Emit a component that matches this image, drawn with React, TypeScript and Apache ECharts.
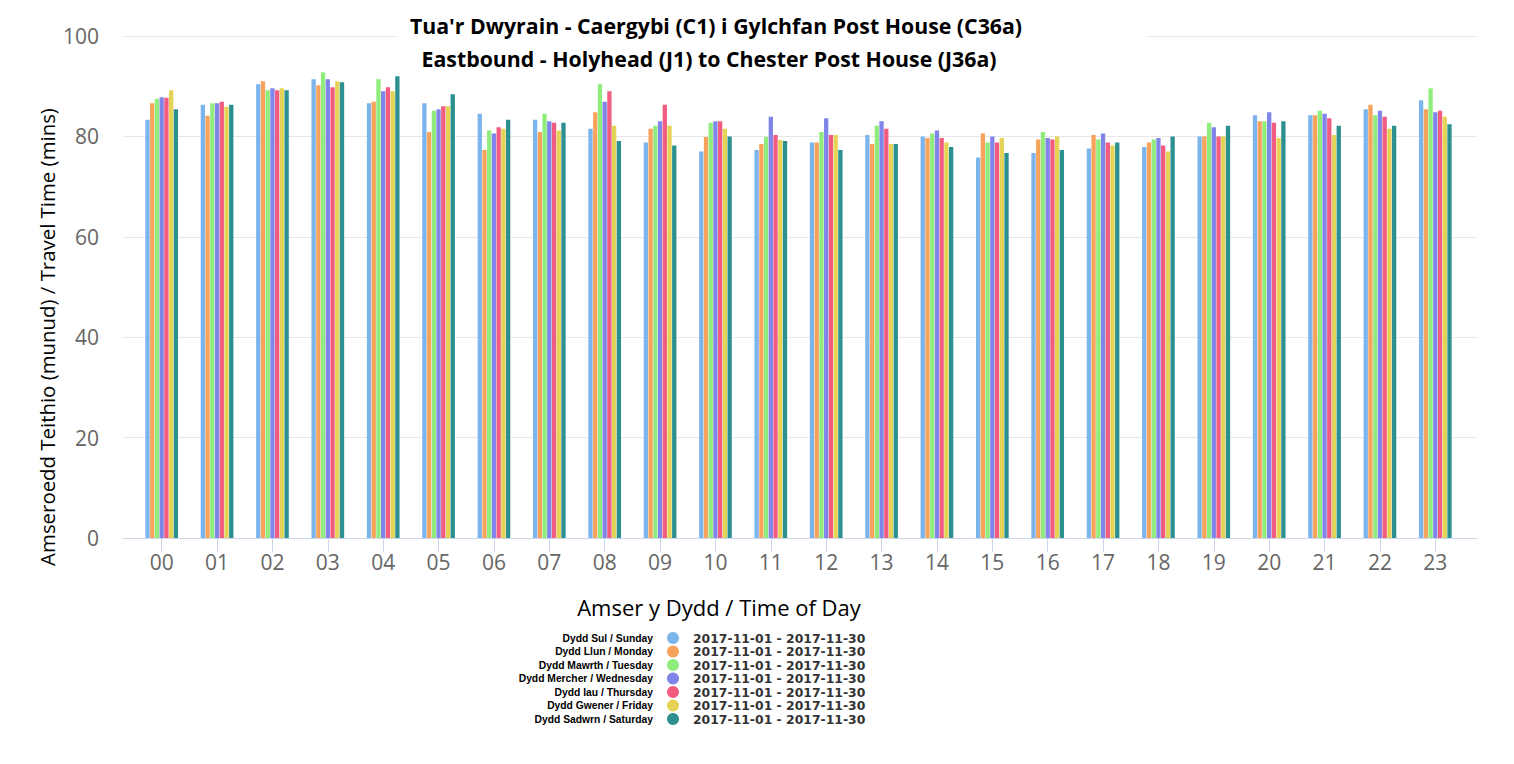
import React, { useEffect, useRef } from "react";
import * as echarts from "echarts";

const hours = ["00","01","02","03","04","05","06","07","08","09","10","11","12","13","14","15","16","17","18","19","20","21","22","23"];

const dayLabels = [
  "Dydd Sul / Sunday",
  "Dydd Llun / Monday",
  "Dydd Mawrth / Tuesday",
  "Dydd Mercher / Wednesday",
  "Dydd Iau / Thursday",
  "Dydd Gwener / Friday",
  "Dydd Sadwrn / Saturday",
];

const dateRange = "2017-11-01 - 2017-11-30";

const colors = ["#7cb5ec", "#f7a35c", "#90ed7d", "#8085e9", "#f15c80", "#e4d354", "#2b908f"];

const sunday = [83.3, 86.3, 90.4, 91.4, 86.6, 86.6, 84.5, 83.3, 81.5, 78.8, 77.0, 77.3, 78.8, 80.3, 80.0, 75.8, 76.7, 77.6, 77.9, 80.0, 84.2, 84.2, 85.4, 87.2];
const monday = [86.6, 84.1, 91.0, 90.2, 86.9, 80.9, 77.3, 80.9, 84.8, 81.5, 79.9, 78.5, 78.8, 78.5, 79.7, 80.6, 79.4, 80.3, 78.8, 80.0, 83.0, 84.2, 86.3, 85.4];
const tuesday = [87.5, 86.6, 89.2, 92.8, 91.4, 85.1, 81.2, 84.5, 90.4, 82.1, 82.7, 79.9, 80.9, 82.1, 80.6, 78.8, 80.9, 79.4, 79.4, 82.7, 83.0, 85.1, 84.2, 89.6];
const wednesday = [87.8, 86.6, 89.6, 91.4, 89.0, 85.4, 80.6, 83.0, 86.9, 83.0, 83.0, 83.9, 83.6, 83.0, 81.2, 80.0, 79.7, 80.6, 79.7, 81.8, 84.8, 84.5, 85.1, 84.8];
const thursday = [87.7, 86.9, 89.2, 89.8, 89.8, 86.0, 81.8, 82.7, 89.0, 86.3, 83.0, 80.3, 80.3, 81.5, 79.7, 78.8, 79.4, 78.8, 78.2, 80.0, 82.7, 83.6, 83.9, 85.1];
const friday = [89.2, 85.9, 89.6, 91.0, 89.0, 86.0, 81.5, 81.2, 82.1, 82.1, 81.5, 79.3, 80.3, 78.5, 78.8, 79.7, 80.0, 78.2, 77.0, 80.0, 79.7, 80.3, 81.5, 83.9];
const saturday = [85.4, 86.3, 89.2, 90.8, 92.0, 88.4, 83.3, 82.7, 79.1, 78.2, 80.0, 79.1, 77.3, 78.5, 77.9, 76.7, 77.3, 78.8, 80.0, 82.1, 83.0, 82.1, 82.1, 82.4];

const seriesValues = [sunday, monday, tuesday, wednesday, thursday, friday, saturday];

const yTicks = { min: 0, max: 100, interval: 20 };

const titleLine1 = "Tua'r Dwyrain - Caergybi (C1) i Gylchfan Post House (C36a)";
const titleLine2 = "Eastbound - Holyhead (J1) to Chester Post House (J36a)";
const yAxisName = "Amseroedd Teithio (munud) / Travel Time (mins)";
const xAxisName = "Amser y Dydd / Time of Day";

export default function App() {
  const ref = useRef<HTMLDivElement>(null);

  useEffect(() => {
    if (!ref.current) return;
    const chart = echarts.init(ref.current, undefined, { renderer: "svg" });
    const font = "'Open Sans', sans-serif";

    const legendTop = 632;
    const rowH = 13.5;

    const dayTexts = dayLabels.map((d, i) => ({
      type: "text",
      z: 50,
      x: 653,
      y: legendTop + 6 + i * rowH,
      style: {
        text: d,
        align: "right",
        verticalAlign: "middle",
        fontFamily: "'Liberation Sans', Arial, sans-serif",
        fontWeight: "bold",
        fontSize: 10.3,
        fill: "#000",
      },
    }));

    chart.setOption({
      animation: false,
      color: colors,
      grid: [
        { left: 123, right: 37, top: 36, bottom: 226, containLabel: false },
        { left: 134, right: 51, top: 36, bottom: 226, containLabel: false },
      ],
      xAxis: [
        {
          type: "value",
          gridIndex: 0,
          min: 0,
          max: 1,
          axisLine: { show: true, onZero: false, lineStyle: { color: "#ccd6eb", width: 1 } },
          axisTick: { show: false },
          axisLabel: { show: false },
          splitLine: { show: false },
        },
        {
          type: "category",
          gridIndex: 1,
          data: hours,
          axisLine: { show: false },
          axisTick: { show: true, alignWithLabel: true, length: 14, lineStyle: { color: "#ccd6eb" } },
          axisLabel: { color: "#666", fontFamily: font, fontSize: 21, margin: 13 },
        },
      ],
      yAxis: [
        {
          type: "value",
          gridIndex: 0,
          min: yTicks.min,
          max: yTicks.max,
          interval: yTicks.interval,
          axisLine: { show: false },
          axisTick: { show: false },
          axisLabel: { color: "#666", fontFamily: font, fontSize: 21, margin: 24 },
          splitLine: { lineStyle: { color: "#e6e6e6", width: 1 } },
        },
        {
          type: "value",
          gridIndex: 1,
          min: yTicks.min,
          max: yTicks.max,
          interval: yTicks.interval,
          show: false,
          splitLine: { show: false },
        },
      ],
      legend: {
        orient: "vertical",
        left: 667,
        top: legendTop,
        itemWidth: 30,
        itemHeight: 12,
        itemGap: 1.5,
        icon: "circle",
        padding: 0,
        data: dayLabels,
        formatter: () => dateRange,
        textStyle: {
          fontFamily: "'DejaVu Sans', sans-serif",
          fontWeight: "bold",
          fontSize: 12.4,
          color: "#333",
        },
      },
      graphic: [
        {
          type: "rect",
          z: 100,
          shape: { x: 397, y: 8, width: 750, height: 64 },
          style: { fill: "#fff" },
        },
        {
          type: "text",
          z: 101,
          x: 716,
          y: 25,
          style: {
            text: titleLine1,
            align: "center",
            verticalAlign: "middle",
            fontFamily: font,
            fontWeight: "bold",
            fontSize: 21.3,
            fill: "#000",
          },
        },
        {
          type: "text",
          z: 101,
          x: 709,
          y: 58,
          style: {
            text: titleLine2,
            align: "center",
            verticalAlign: "middle",
            fontFamily: font,
            fontWeight: "bold",
            fontSize: 21.3,
            fill: "#000",
          },
        },
        {
          type: "text",
          z: 50,
          x: 719,
          y: 607,
          style: {
            text: xAxisName,
            align: "center",
            verticalAlign: "middle",
            fontFamily: font,
            fontSize: 22,
            fill: "#000",
          },
        },
        {
          type: "text",
          z: 50,
          x: 47,
          y: 337,
          rotation: Math.PI / 2,
          style: {
            text: yAxisName,
            align: "center",
            verticalAlign: "middle",
            fontFamily: font,
            fontSize: 20.4,
            fill: "#000",
          },
        },
        ...dayTexts,
      ],
      series: seriesValues.map((vals, i) => ({
        name: dayLabels[i],
        type: "bar",
        xAxisIndex: 1,
        yAxisIndex: 1,
        data: vals,
        barWidth: 4.3,
        barGap: "10%",
        itemStyle: { color: colors[i] },
      })),
    } as any);

    return () => chart.dispose();
  }, []);

  return (
    <div
      ref={ref}
      style={{ position: "absolute", left: 0, top: 0, width: 1514, height: 764, background: "#fff" }}
    />
  );
}
